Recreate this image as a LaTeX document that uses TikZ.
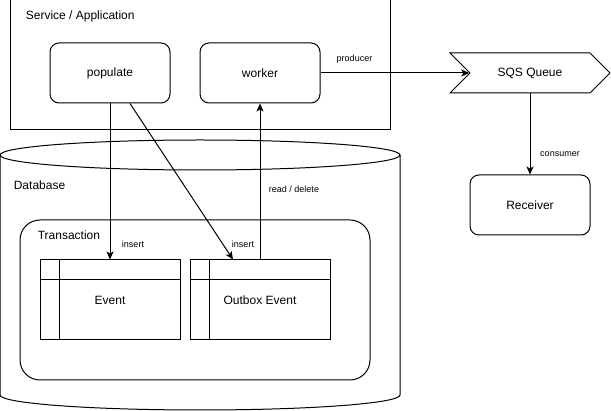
\documentclass[tikz,border=0pt]{standalone}
\usepackage{fontspec}
\setmainfont{Liberation Sans}
\usepackage{tikz}
\usetikzlibrary{arrows.meta}
\usetikzlibrary{positioning}
\usetikzlibrary{shapes}
\tikzstyle{box}=[draw,fill=white,rounded corners=9pt,minimum width=120pt,minimum height=60pt,font=\fontsize{12}{14}\selectfont]
\tikzstyle{dbtable}=[draw,fill=white,minimum width=140pt,minimum height=80pt,font=\fontsize{12}{14}\selectfont]
\tikzstyle{tag}=[font=\fontsize{9}{11}\selectfont,inner sep=0pt]
\tikzstyle{title}=[anchor=west,font=\fontsize{12}{14}\selectfont]

\begin{document}
\begin{tikzpicture}[x=1pt,y=-1pt,line width=1pt,>={Stealth[length=8pt,width=7pt,inset=2pt]}]
\useasboundingbox (0,0) rectangle (611,411);
% service / application
\draw[fill=white] (10,0) rectangle (390,130);
\node[title] (svc) at (22,16) {Service / Application};
\node[box] (populate) at (110,73) {populate};
\node[box] (worker) at (260,73) {worker};

% database
\draw[fill=white] (0,155) -- (0,395) arc[start angle=180,end angle=0,x radius=200,y radius=15]
  -- (400,155) arc[start angle=0,end angle=-180,x radius=200,y radius=15] -- cycle;
\draw (0,155) arc[start angle=180,end angle=0,x radius=200,y radius=15];
\node[title] (db) at (10,185) {Database};
\draw[rounded corners=20pt] (20,220) rectangle (370,380);
\node[title] (tx) at (34,235) {Transaction};

\node[dbtable] (event) at (110,300) {Event};
\draw (event.north west) ++(0,20) -- ++(140,0);
\draw (event.north west) ++(20,0) -- ++(0,80);
\node[dbtable] (outbox) at (260,300) {Outbox Event};
\draw (outbox.north west) ++(0,20) -- ++(140,0);
\draw (outbox.north west) ++(20,0) -- ++(0,80);

% queue side
\node[draw,fill=white,signal,signal to=east,signal from=west,minimum width=160pt,minimum height=40pt,inner sep=0pt,font=\fontsize{12}{14}\selectfont] (sqs) at (530,73) {SQS Queue};
\node[box] (receiver) at (530,205) {Receiver};

\draw[->] (populate.south) -- (event.north);
\draw[->] ([xshift=20pt]populate.south) -- ([xshift=-27pt]outbox.north);
\draw[->] (outbox.north) -- (worker.south);
\draw[->] (worker.east) -- (sqs.west);
\draw[->] (sqs.south) -- (receiver.north);

\node[tag] at (event.north) [xshift=23pt,yshift=15pt] {insert};
\node[tag] at (outbox.north) [xshift=-17pt,yshift=15pt] {insert};
\node[tag] at (outbox.north) [xshift=34pt,yshift=70pt] {read / delete};
\node[tag] at (worker.east) [xshift=34pt,yshift=14pt] {producer};
\node[tag] at (receiver.north) [xshift=30pt,yshift=20pt] {consumer};
\end{tikzpicture}
\end{document}
